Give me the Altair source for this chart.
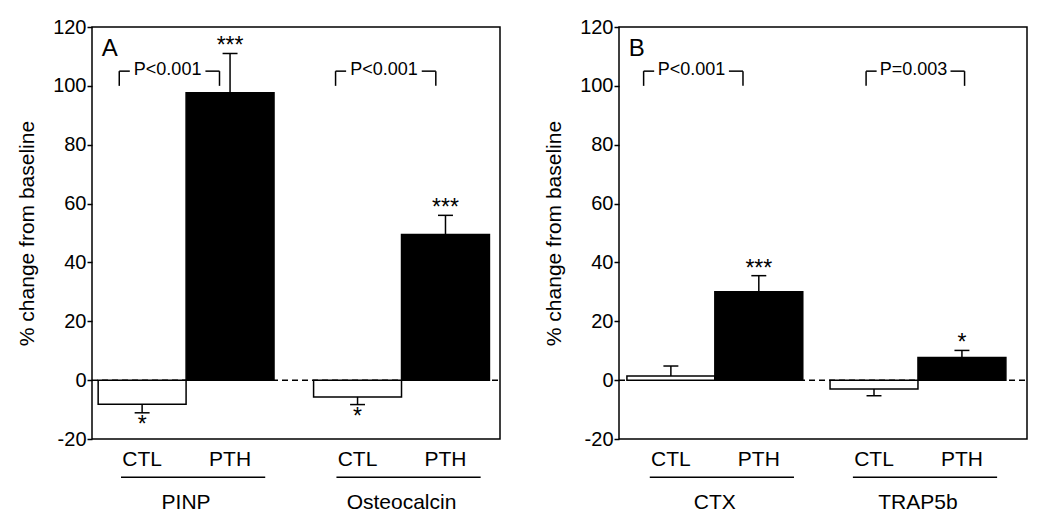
import altair as alt
import pandas as pd

# ---- data ----
panel_letters = ["A", "B"]
markers = [["PINP", "Osteocalcin"], ["CTX", "TRAP5b"]]
conditions = ["CTL", "PTH"]
means = [[[-8.2, 97.7], [-5.7, 49.5]], [[1.4, 30.0], [-3.0, 7.7]]]
sems = [[[2.9, 13.3], [2.6, 6.5]], [[3.4, 5.5], [2.3, 2.4]]]
stars = [[["*", "***"], ["*", "***"]], [["", "***"], ["", "*"]]]
p_labels = [["P<0.001", "P<0.001"], ["P<0.001", "P=0.003"]]
y_ticks = [-20, 0, 20, 40, 60, 80, 100, 120]

# ---- layout (x in bar-width units) ----
X_MAX = 4.64
group_starts = [[0.07, 2.52], [0.09, 2.40]]
bracket_spans = [[(0.31, 1.45), (2.77, 3.91)], [(0.28, 1.41), (2.81, 3.93)]]
BR_LOW, BR_HIGH = 100, 105
CAP_HALF = 0.085
Y_COND, Y_LINE, Y_GROUP = -27.2, -33.0, -41.6

FONT = "Liberation Sans"
W, H = 408, 412


def build_panel(p):
    bars, errs, brs, brtxt, conds, groups, lines = [], [], [], [], [], [], []
    for g in range(2):
        gs = group_starts[p][g]
        for c in range(2):
            x0 = gs + c
            x1 = x0 + 1
            xc = x0 + 0.5
            m = means[p][g][c]
            s = sems[p][g][c]
            tip = m + s if m >= 0 else m - s
            bars.append(dict(x0=x0, x1=x1, y0=0, y1=m, cond=conditions[c]))
            errs.append(dict(xc=xc, xa=xc - CAP_HALF, xb=xc + CAP_HALF, m=m,
                             tip=tip, star=stars[p][g][c], pos=m >= 0))
            conds.append(dict(x=xc, y=Y_COND, t=conditions[c]))
        xl, xr = bracket_spans[p][g]
        brs += [
            dict(x=xl, x2=xl, y=BR_LOW, y2=BR_HIGH),
            dict(x=xr, x2=xr, y=BR_LOW, y2=BR_HIGH),
            dict(x=xl, x2=xl + 0.12, y=BR_HIGH, y2=BR_HIGH),
            dict(x=xr - 0.16, x2=xr, y=BR_HIGH, y2=BR_HIGH),
        ]
        brtxt.append(dict(x=(xl + 0.12 + xr - 0.16) / 2, y=BR_HIGH, t=p_labels[p][g]))
        gc = gs + 1.0
        groups.append(dict(x=gc, y=Y_GROUP, t=markers[p][g]))
        lines.append(dict(x=gc + 0.08 - 0.82, x2=gc + 0.08 + 0.82, y=Y_LINE))

    xs = alt.Scale(domain=[0, X_MAX], nice=False, zero=False)
    ys = alt.Scale(domain=[-20, 120], nice=False, zero=False)
    yaxis = alt.Axis(values=y_ticks, title="% change from baseline", grid=False,
                     domain=False, tickSize=5, tickWidth=1.5, tickColor="black",
                     labelExpr="'' + datum.value",
                     labelFontSize=20, labelColor="black", labelPadding=1,
                     titleFontSize=21, titleFontWeight="normal", titleColor="black",
                     titlePadding=15, labelFont=FONT, titleFont=FONT)

    zero = alt.Chart(pd.DataFrame([dict(x=0, x2=X_MAX, y=0)])).mark_rule(
        color="black", strokeWidth=1.5, strokeDash=[6, 4]
    ).encode(x=alt.X("x:Q", scale=xs, axis=None), x2="x2:Q",
             y=alt.Y("y:Q", scale=ys, axis=yaxis))

    bdf = pd.DataFrame(bars)
    bar = alt.Chart(bdf).mark_rect(stroke="black", strokeWidth=1.5).encode(
        x=alt.X("x0:Q", scale=xs, axis=None), x2="x1:Q",
        y=alt.Y("y0:Q", scale=ys, axis=yaxis), y2="y1:Q",
        fill=alt.Fill("cond:N", scale=alt.Scale(domain=conditions, range=["white", "black"]),
                      legend=None),
    )

    edf = pd.DataFrame(errs)
    stem = alt.Chart(edf).mark_rule(color="black", strokeWidth=1.5).encode(
        x=alt.X("xc:Q", scale=xs), y=alt.Y("m:Q", scale=ys), y2="tip:Q")
    cap = alt.Chart(edf).mark_rule(color="black", strokeWidth=1.5).encode(
        x=alt.X("xa:Q", scale=xs), x2="xb:Q", y=alt.Y("tip:Q", scale=ys))
    star_up = alt.Chart(edf[edf.pos]).mark_text(
        fontSize=23, font=FONT, color="black", baseline="alphabetic", dy=0
    ).encode(x=alt.X("xc:Q", scale=xs), y=alt.Y("tip:Q", scale=ys), text="star:N")
    star_dn = alt.Chart(edf[~edf.pos]).mark_text(
        fontSize=23, font=FONT, color="black", baseline="alphabetic", dy=19
    ).encode(x=alt.X("xc:Q", scale=xs), y=alt.Y("tip:Q", scale=ys), text="star:N")

    br = alt.Chart(pd.DataFrame(brs)).mark_rule(color="black", strokeWidth=1.5).encode(
        x=alt.X("x:Q", scale=xs), x2="x2:Q", y=alt.Y("y:Q", scale=ys), y2="y2:Q")
    brt = alt.Chart(pd.DataFrame(brtxt)).mark_text(
        fontSize=18, font=FONT, color="black", baseline="middle", dy=-1
    ).encode(x=alt.X("x:Q", scale=xs), y=alt.Y("y:Q", scale=ys), text="t:N")

    ct = alt.Chart(pd.DataFrame(conds)).mark_text(
        fontSize=21, font=FONT, color="black", baseline="middle"
    ).encode(x=alt.X("x:Q", scale=xs), y=alt.Y("y:Q", scale=ys), text="t:N")
    gt = alt.Chart(pd.DataFrame(groups)).mark_text(
        fontSize=21, font=FONT, color="black", baseline="middle"
    ).encode(x=alt.X("x:Q", scale=xs), y=alt.Y("y:Q", scale=ys), text="t:N")
    ul = alt.Chart(pd.DataFrame(lines)).mark_rule(color="black", strokeWidth=1.5).encode(
        x=alt.X("x:Q", scale=xs), x2="x2:Q", y=alt.Y("y:Q", scale=ys))

    letter = alt.Chart(pd.DataFrame([dict(x=0.11, y=112.5, t=panel_letters[p])])).mark_text(
        fontSize=24, font=FONT, color="black", align="left", baseline="middle"
    ).encode(x=alt.X("x:Q", scale=xs), y=alt.Y("y:Q", scale=ys), text="t:N")

    return alt.layer(zero, bar, stem, cap, star_up, star_dn, br, brt, ct, gt, ul, letter).properties(
        width=W, height=H)


chart = alt.hconcat(build_panel(0), build_panel(1), spacing=40).properties(
    padding={"left": 7, "top": 8, "right": 5, "bottom": 5}
).configure(font=FONT).configure_view(stroke="black", strokeWidth=1.5)

chart.save("out.html", embed_options={"renderer": "svg", "actions": False})
